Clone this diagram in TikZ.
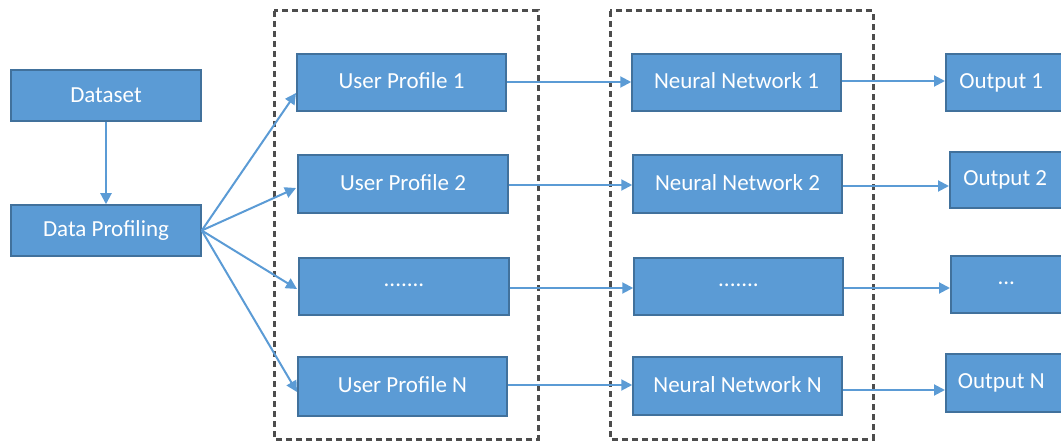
\documentclass[tikz,border=0pt]{standalone}
\usepackage{fontspec}
\setmainfont{Carlito}
\usetikzlibrary{arrows.meta}
\definecolor{boxfill}{HTML}{5B9BD5}
\definecolor{boxline}{HTML}{41719C}
\definecolor{arrowcol}{HTML}{5B9BD5}
\definecolor{dashcol}{HTML}{4D4D4D}
\begin{document}
\begin{tikzpicture}[x=1pt,y=-1pt,
  blk/.style={draw=boxline,line width=1.5pt,fill=boxfill,text=white,
    font=\fontsize{23}{26}\selectfont,inner sep=0pt},
  conn/.style={draw=arrowcol,line width=2pt,-{Triangle[length=11pt,width=11pt]}},
  group/.style={draw=dashcol,line width=3pt,dash pattern=on 6pt off 4pt}]
\useasboundingbox (0,0) rectangle (1061,441);
\clip (0,0) rectangle (1061,441);
% dashed group boxes
\draw[group] (274,11) rectangle (538,439);
\draw[group] (610,11) rectangle (873,439);
% left column
\node[blk,minimum width=190pt,minimum height=51pt] (ds) at (106,95.5) {Dataset};
\node[blk,minimum width=190pt,minimum height=51pt] (dp) at (106,230.5) {Data Profiling};
% user profiles
\node[blk,minimum width=209pt,minimum height=57pt] (u1) at (401.5,82.5) {\raisebox{3pt}{User Profile 1}};
\node[blk,minimum width=210pt,minimum height=58pt] (u2) at (403,184) {\raisebox{3pt}{User Profile 2}};
\node[blk,minimum width=210pt,minimum height=57pt] (u3) at (404,286.5) {\raisebox{3pt}{.......}};
\node[blk,minimum width=209pt,minimum height=59pt] (u4) at (402.5,386.5) {\raisebox{3pt}{User Profile N}};
% neural networks
\node[blk,minimum width=209pt,minimum height=57pt] (n1) at (736.5,82.5) {\raisebox{3pt}{Neural Network 1}};
\node[blk,minimum width=209pt,minimum height=58pt] (n2) at (737.5,184) {\raisebox{3pt}{Neural Network 2}};
\node[blk,minimum width=209pt,minimum height=57pt] (n3) at (738.5,286.5) {\raisebox{3pt}{.......}};
\node[blk,minimum width=209pt,minimum height=58pt] (n4) at (737.5,386) {\raisebox{3pt}{Neural Network N}};
% outputs (cut off at right edge)
\node[blk,minimum width=125pt,minimum height=57pt,anchor=west] (o1) at (945,82.5) {\hspace*{-14pt}\raisebox{3pt}{Output 1}};
\node[blk,minimum width=125pt,minimum height=56pt,anchor=west] (o2) at (949,180) {\hspace*{-14pt}\raisebox{3pt}{Output 2}};
\node[blk,minimum width=125pt,minimum height=57pt,anchor=west] (o3) at (950,284.5) {\hspace*{-14pt}\raisebox{3pt}{...}};
\node[blk,minimum width=125pt,minimum height=58pt,anchor=west] (o4) at (945,383) {\hspace*{-14pt}\raisebox{3pt}{Output N}};
% connectors
\draw[conn] (ds.south) -- (dp.north);
\coordinate (f1) at (296,93);
\coordinate (f2) at (296,188);
\coordinate (f3) at (297,289);
\coordinate (f4) at (297,392);
\draw[conn] (dp.east) -- (f1);
\draw[conn] (dp.east) -- (f2);
\draw[conn] (dp.east) -- (f3);
\draw[conn] (dp.east) -- (f4);
\draw[conn] (u1.east |- 0,82) -- (n1.west |- 0,82);
\draw[conn] (u2.east |- 0,185) -- (n2.west |- 0,185);
\draw[conn] (u3.east |- 0,288) -- (n3.west |- 0,288);
\draw[conn] (u4.east |- 0,385) -- (n4.west |- 0,385);
\draw[conn] (n1.east |- 0,81) -- (o1.west |- 0,81);
\draw[conn] (n2.east |- 0,186) -- (o2.west |- 0,186);
\draw[conn] (n3.east |- 0,288) -- (o3.west |- 0,288);
\draw[conn] (n4.east |- 0,390) -- (o4.west |- 0,390);
\end{tikzpicture}
\end{document}
